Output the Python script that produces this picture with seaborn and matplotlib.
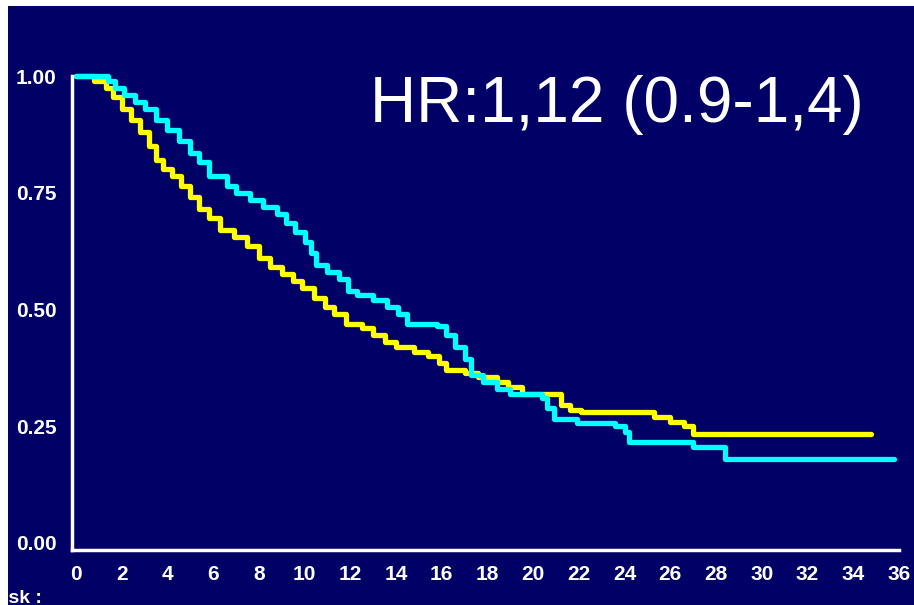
"""Kaplan-Meier style survival curves, two arms, navy slide look."""

import pandas as pd
import matplotlib
matplotlib.use("Agg")
import matplotlib.pyplot as plt
from matplotlib.patches import Rectangle
import seaborn as sns

sns.set_style("white")
plt.rcParams['font.family'] = ['Liberation Sans', 'DejaVu Sans']

NAVY = '#000066'

# survival (months, proportion)
yellow_t = [0, 0.8, 1.3, 1.6, 2.0, 2.4, 2.8, 3.2, 3.5, 3.8, 4.2, 4.6, 5.0, 5.4,
            5.8, 6.3, 6.9, 7.5, 8.0, 8.5, 9.0, 9.5, 9.9, 10.4, 10.9, 11.3,
            11.8, 12.5, 13.0, 13.5, 14.0, 14.8, 15.4, 15.9, 16.2, 17.0, 17.6,
            18.4, 18.9, 19.5, 21.2, 21.6, 22.1, 25.3, 26.0, 26.6, 27.0, 34.8]
yellow_s = [1.00, 0.99, 0.975, 0.955, 0.93, 0.905, 0.88, 0.85, 0.82, 0.80,
            0.785, 0.765, 0.74, 0.715, 0.695, 0.67, 0.655, 0.635, 0.61, 0.59,
            0.575, 0.56, 0.545, 0.525, 0.505, 0.49, 0.47, 0.46, 0.445, 0.43,
            0.42, 0.41, 0.40, 0.385, 0.37, 0.365, 0.355, 0.345, 0.333, 0.318,
            0.295, 0.285, 0.28, 0.27, 0.26, 0.25, 0.233, 0.233]

cyan_t = [0, 1.4, 1.7, 2.1, 2.6, 3.0, 3.5, 4.0, 4.5, 5.0, 5.4, 5.8, 6.6, 7.0,
          7.6, 8.2, 8.8, 9.2, 9.6, 10.0, 10.3, 10.5, 11.0, 11.5, 11.9, 12.3,
          13.0, 13.6, 14.1, 14.5, 15.8, 16.2, 16.6, 17.0, 17.3, 17.8, 18.4,
          19.0, 20.4, 20.6, 20.9, 21.9, 23.6, 24.0, 24.2, 27.0, 28.4, 35.8]
cyan_s = [1.00, 0.99, 0.975, 0.96, 0.945, 0.93, 0.905, 0.885, 0.86, 0.835,
          0.815, 0.785, 0.765, 0.75, 0.735, 0.72, 0.705, 0.685, 0.665, 0.645,
          0.62, 0.595, 0.58, 0.565, 0.54, 0.53, 0.52, 0.505, 0.49, 0.47,
          0.465, 0.445, 0.42, 0.395, 0.36, 0.345, 0.33, 0.32, 0.31, 0.29,
          0.265, 0.257, 0.25, 0.238, 0.216, 0.205, 0.18, 0.18]

x_ticks = list(range(0, 37, 2))
y_ticks = [0.0, 0.25, 0.5, 0.75, 1.0]
hr_text = 'HR:1,12 (0.9-1,4)'

df = pd.concat([
    pd.DataFrame({'time': yellow_t, 'surv': yellow_s, 'arm': 'A'}),
    pd.DataFrame({'time': cyan_t, 'surv': cyan_s, 'arm': 'B'}),
])

fig = plt.figure(figsize=(9.14, 6.05), dpi=100, facecolor=NAVY)
ax = fig.add_axes([0.0789, 0.0917, 0.912, 0.8058])
ax.set_facecolor(NAVY)

sns.lineplot(data=df, x='time', y='surv', hue='arm',
             palette={'A': '#FFFF00', 'B': '#00FFFF'},
             estimator=None, sort=False, drawstyle='steps-post',
             linewidth=3.8, legend=False, ax=ax, clip_on=False)

ax.set_xlim(-0.17, 36.3)
ax.set_ylim(-0.014, 1.03)
ax.set_xticks(x_ticks)
ax.set_yticks(y_ticks)
ax.set_yticklabels([f'{v:.2f}' for v in y_ticks])
ax.set_xlabel('')
ax.set_ylabel('')

for side in ['top', 'right']:
    ax.spines[side].set_visible(False)
ax.spines['left'].set_bounds(-0.014, 1.0)
ax.spines['bottom'].set_bounds(-0.17, 36.0)
for side in ['left', 'bottom']:
    ax.spines[side].set_color('white')
    ax.spines[side].set_linewidth(2.5)

ax.tick_params(colors='white', width=3, length=4, labelsize=15, pad=7)
for lab in ax.get_xticklabels() + ax.get_yticklabels():
    lab.set_fontweight('bold')

fig.text(370 / 914, 1 - 122 / 605, hr_text, color='white', fontsize=46,
         ha='left', va='baseline')
fig.text(42 / 914, 1 - 590 / 605, 'Risk :', color='white', fontsize=14,
         fontweight='bold', ha='right', va='top')

# white slide margin on top and left
fig.add_artist(Rectangle((0, 1 - 6 / 605), 1, 6 / 605, transform=fig.transFigure,
                         facecolor='white', edgecolor='none', zorder=20))
fig.add_artist(Rectangle((0, 0), 8 / 914, 1, transform=fig.transFigure,
                         facecolor='white', edgecolor='none', zorder=20))

fig.savefig('out.png', dpi=100, facecolor=NAVY)
